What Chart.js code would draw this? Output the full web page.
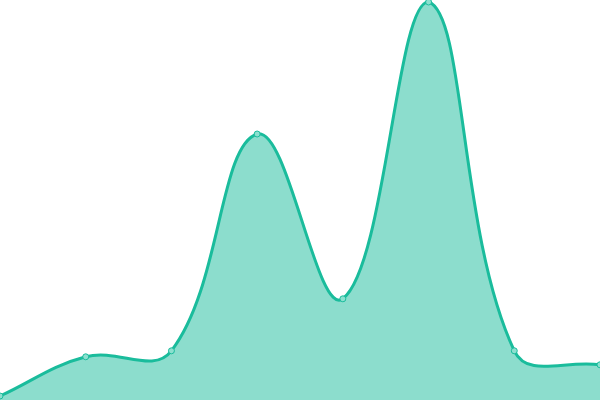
<!DOCTYPE html>
<html>
<head>
<meta charset="utf-8">
<script src="https://cdn.jsdelivr.net/npm/chart.js@4"></script>
<style>
  html, body { margin: 0; padding: 0; background: #fff; overflow: hidden; }
  #frame { width: 600px; height: 400px; overflow: hidden; position: relative; }
  #wrap { position: absolute; left: -5px; top: -5px; width: 610px; height: 410px; }
</style>
</head>
<body>
<div id="frame"><div id="wrap"><canvas id="chart"></canvas></div></div>
<script>
const labels = ['1', '2', '3', '4', '5', '6', '7', '8'];
const values = [1, 10.8, 12.3, 66.5, 25.3, 99.5, 12.3, 8.8];

new Chart(document.getElementById('chart'), {
  type: 'line',
  data: {
    labels: labels,
    datasets: [{
      data: values,
      borderColor: '#1abc9c',
      backgroundColor: 'rgba(26, 188, 156, 0.5)',
      borderWidth: 3,
      fill: true,
      tension: 0.4,
      pointRadius: 3,
      pointBorderWidth: 1,
      pointBackgroundColor: '#8ce0cf',
      pointBorderColor: '#1abc9c'
    }]
  },
  options: {
    responsive: true,
    maintainAspectRatio: false,
    animation: false,
    clip: false,
    layout: { padding: 0 },
    plugins: {
      legend: { display: false },
      tooltip: { enabled: false }
    },
    scales: {
      x: { display: false },
      y: { display: false, min: 0, max: 100 }
    }
  }
});
</script>
</body>
</html>
